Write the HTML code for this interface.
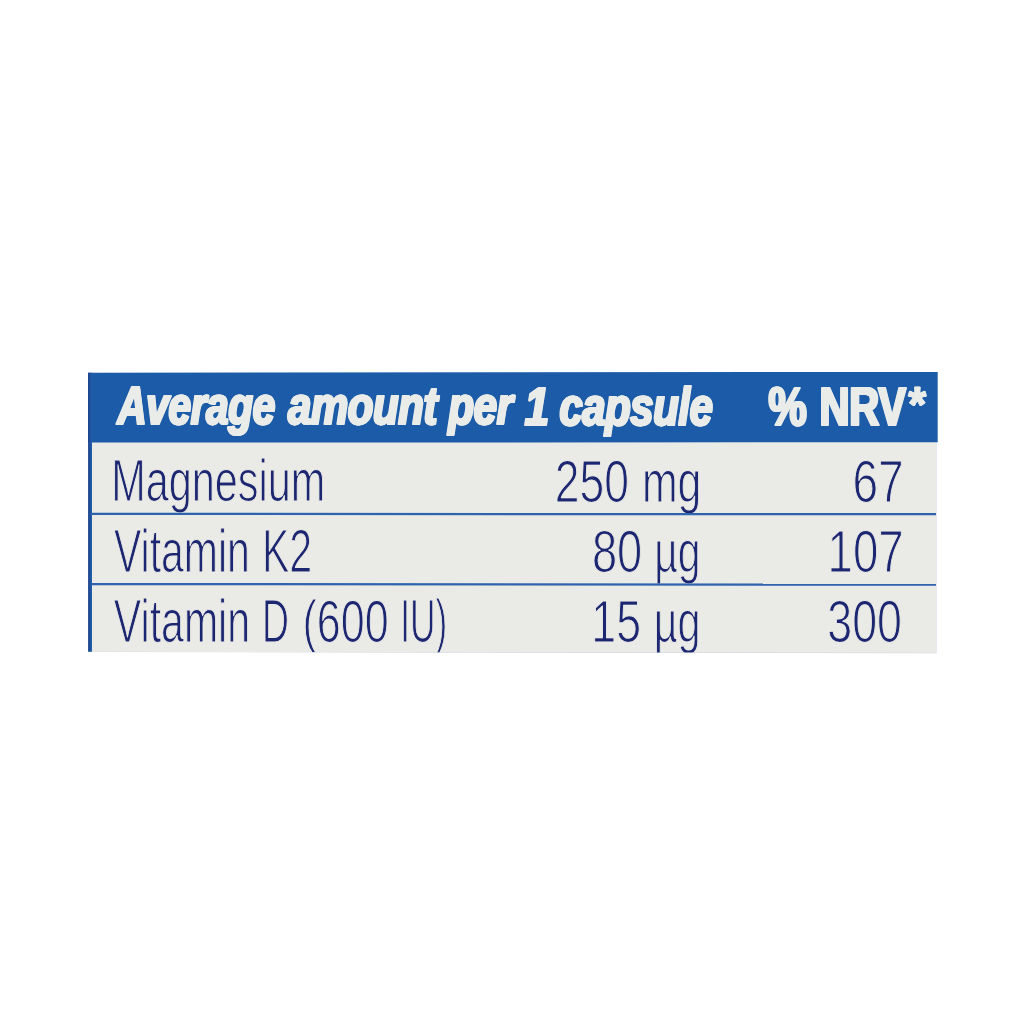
<!DOCTYPE html>
<html lang="en"><head><meta charset="utf-8"><title>Nutrition table</title>
<style>
html,body{margin:0;padding:0;background:#fff;}
body{width:1024px;height:1024px;position:relative;overflow:hidden;font-family:"Liberation Sans",sans-serif;}
svg{position:absolute;left:0;top:0;display:block;}
svg text{font-family:"Liberation Sans",sans-serif;}
svg text.h{text-shadow:0.6px 0 0 #eaece9,-0.6px 0 0 #eaece9;}
</style></head><body>
<svg width="1024" height="1024" viewBox="0 0 1024 1024">
<defs>
<clipPath id="c"><polygon points="88.1,372.8 937.7,371.9 937.7,442.3 936.1,442.3 936.1,652.8 88.1,651.7"/></clipPath>
<linearGradient id="lb" x1="0" x2="1" y1="0" y2="0"><stop offset="0" stop-color="#1c3f88"/><stop offset="0.45" stop-color="#1d4f9c"/><stop offset="1" stop-color="#2560ab"/></linearGradient>
</defs>
<polygon points="88.6,442 936.5,442 936.5,653.2 88.6,652.1" fill="#8f9dbd" opacity="0.45"/>
<polygon points="88.1,442 936.1,442 936.1,652.8 88.1,651.7" fill="#eaebe7"/>
<polygon points="88.1,372.8 937.7,371.9 937.7,442.3 88.1,442.5" fill="#1b5ba7"/>
<polygon points="88.1,372.8 92,372.8 92,651.7 88.1,651.7" fill="url(#lb)"/>
<g clip-path="url(#c)">
<text class="h" font-size="53.09" font-weight="bold" font-style="italic" fill="#eaece9" stroke="#eaece9" stroke-width="2.0" stroke-linejoin="round" letter-spacing="-0.4"><tspan x="117.4" y="423.55" textLength="157.51" lengthAdjust="spacingAndGlyphs">Average</tspan> <tspan x="287.98" y="423.95" textLength="149.1" lengthAdjust="spacingAndGlyphs">amount</tspan> <tspan x="448.56" y="424.35" textLength="64.03" lengthAdjust="spacingAndGlyphs">per</tspan> <tspan x="524.82" y="424.55" textLength="23.91" lengthAdjust="spacingAndGlyphs">1</tspan> <tspan x="559.4" y="424.75" textLength="153.14" lengthAdjust="spacingAndGlyphs">capsule</tspan></text>
<text class="h" font-size="53.43" font-weight="bold" font-style="normal" fill="#eaece9" stroke="#eaece9" stroke-width="2.0" stroke-linejoin="round" letter-spacing="-0.4"><tspan x="768.6" y="425.4" textLength="37.88" lengthAdjust="spacingAndGlyphs">%</tspan> <tspan x="819.44" y="425.4" textLength="86.21" lengthAdjust="spacingAndGlyphs">NRV</tspan><tspan x="908.39" y="422.3" textLength="17.34" lengthAdjust="spacingAndGlyphs" stroke-width="0.6" font-size="49.16">*</tspan></text>
<text class="b" font-size="60.15" font-weight="normal" font-style="normal" fill="#1d2670" stroke="#eaebe7" stroke-width="1.2" stroke-linejoin="round" letter-spacing="0"><tspan x="111.21" y="501.45" textLength="213.99" lengthAdjust="spacingAndGlyphs">Magnesium</tspan></text>
<text class="b" font-size="60.83" font-weight="normal" font-style="normal" fill="#1d2670" stroke="#eaebe7" stroke-width="1.2" stroke-linejoin="round" letter-spacing="0"><tspan x="113.96" y="571.85" textLength="135.96" lengthAdjust="spacingAndGlyphs">Vitamin</tspan> <tspan x="261.88" y="571.85" textLength="50.34" lengthAdjust="spacingAndGlyphs">K2</tspan></text>
<text class="b" font-size="61.43" font-weight="normal" font-style="normal" fill="#1d2670" stroke="#eaebe7" stroke-width="1.2" stroke-linejoin="round" letter-spacing="0"><tspan x="113.86" y="641.85" textLength="136.2" lengthAdjust="spacingAndGlyphs">Vitamin</tspan> <tspan x="262.1" y="641.85" textLength="27.0" lengthAdjust="spacingAndGlyphs">D</tspan> <tspan x="302.51" y="641.85" textLength="86.12" lengthAdjust="spacingAndGlyphs" font-size="59.1">(600</tspan> <tspan x="400.21" y="641.85" textLength="47.01" lengthAdjust="spacingAndGlyphs">IU)</tspan></text>
<text class="b" font-size="59.22" font-weight="normal" font-style="normal" fill="#1d2670" stroke="#eaebe7" stroke-width="1.2" stroke-linejoin="round" letter-spacing="0"><tspan x="554.87" y="501.75" textLength="74.24" lengthAdjust="spacingAndGlyphs">250</tspan> <tspan x="641.95" y="501.75" textLength="59.41" lengthAdjust="spacingAndGlyphs">mg</tspan></text>
<text class="b" font-size="59.59" font-weight="normal" font-style="normal" fill="#1d2670" stroke="#eaebe7" stroke-width="1.2" stroke-linejoin="round" letter-spacing="0"><tspan x="591.93" y="572.25" textLength="50.38" lengthAdjust="spacingAndGlyphs">80</tspan> <tspan x="654.24" y="572.25" textLength="46.34" lengthAdjust="spacingAndGlyphs">µg</tspan></text>
<text class="b" font-size="59.63" font-weight="normal" font-style="normal" fill="#1d2670" stroke="#eaebe7" stroke-width="1.2" stroke-linejoin="round" letter-spacing="0"><tspan x="591.31" y="641.5" textLength="49.75" lengthAdjust="spacingAndGlyphs">15</tspan> <tspan x="653.7" y="641.5" textLength="46.94" lengthAdjust="spacingAndGlyphs">µg</tspan></text>
<text class="b" font-size="59.37" font-weight="normal" font-style="normal" fill="#1d2670" stroke="#eaebe7" stroke-width="1.2" stroke-linejoin="round" letter-spacing="0"><tspan x="852.49" y="501.95" textLength="51.25" lengthAdjust="spacingAndGlyphs">67</tspan></text>
<text class="b" font-size="60.0" font-weight="normal" font-style="normal" fill="#1d2670" stroke="#eaebe7" stroke-width="1.2" stroke-linejoin="round" letter-spacing="0"><tspan x="827.61" y="572.1" textLength="76.14" lengthAdjust="spacingAndGlyphs">107</tspan></text>
<text class="b" font-size="59.67" font-weight="normal" font-style="normal" fill="#1d2670" stroke="#eaebe7" stroke-width="1.2" stroke-linejoin="round" letter-spacing="0"><tspan x="827.25" y="642.35" textLength="74.8" lengthAdjust="spacingAndGlyphs">300</tspan></text>
<polygon points="91,512.75 936.1,513.05 936.1,515.35 91,515.05" fill="#2f63ad"/>
<polygon points="91,582.9 936.1,583.55 936.1,585.85 91,585.2" fill="#2f63ad"/>
</g>
</svg>
</body></html>
